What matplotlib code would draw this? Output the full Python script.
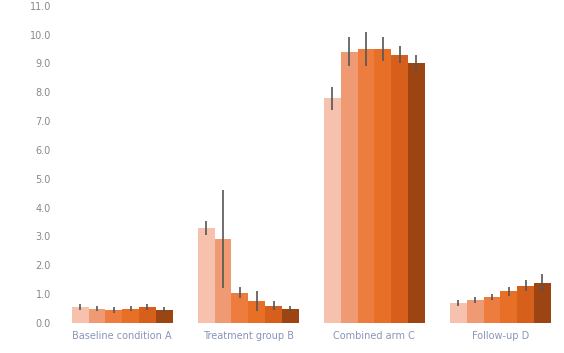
import matplotlib
matplotlib.use("Agg")
import matplotlib.pyplot as plt
import numpy as np

# Category groups along the x axis
categories = ["Baseline condition A", "Treatment group B", "Combined arm C", "Follow-up D"]

# One series per hue level (light -> dark)
series_names = ["L1", "L2", "L3", "L4", "L5", "L6"]
values = [
    [0.55, 3.30, 7.80, 0.70],
    [0.50, 2.90, 9.40, 0.80],
    [0.45, 1.05, 9.50, 0.90],
    [0.50, 0.75, 9.50, 1.10],
    [0.55, 0.60, 9.30, 1.30],
    [0.45, 0.50, 9.00, 1.40],
]
errors = [
    [0.10, 0.25, 0.40, 0.10],
    [0.10, 1.70, 0.50, 0.10],
    [0.10, 0.20, 0.60, 0.10],
    [0.10, 0.35, 0.40, 0.15],
    [0.10, 0.15, 0.30, 0.20],
    [0.10, 0.10, 0.30, 0.30],
]
palette = ["#f6c1ad", "#f09a73", "#ec7d3e", "#e86f26", "#d55f1b", "#9c4412"]

y_ticks = list(range(0, 12))

fig = plt.figure(figsize=(5.64, 3.53), dpi=100)
ax = fig.add_axes([0.105, 0.085, 0.894, 0.915])

n = len(series_names)
group_width = 0.8
bw = group_width / n
x = np.arange(len(categories))
for i, (name, vals, errs) in enumerate(zip(series_names, values, errors)):
    pos = x - group_width / 2 + bw * (i + 0.5)
    ax.bar(pos, vals, width=bw, color=palette[i], edgecolor="none", label=name)
    ax.errorbar(pos, vals, yerr=errs, fmt="none", ecolor="#555555", elinewidth=1.2, capsize=0)

ax.set_xlim(-0.5, len(categories) - 0.5)
ax.set_ylim(0, 11.2)
ax.set_yticks(y_ticks)
ax.set_yticklabels([f"{v:.1f}" for v in y_ticks])
ax.set_xticks(x)
ax.set_xticklabels(categories)

ax.tick_params(axis="y", length=0, pad=6, labelsize=7, labelcolor="#888888")
ax.tick_params(axis="x", length=0, pad=6, labelsize=7, labelcolor="#8a94b8")
for s in ax.spines.values():
    s.set_visible(False)

fig.savefig("out.png", dpi=100, facecolor="white")
